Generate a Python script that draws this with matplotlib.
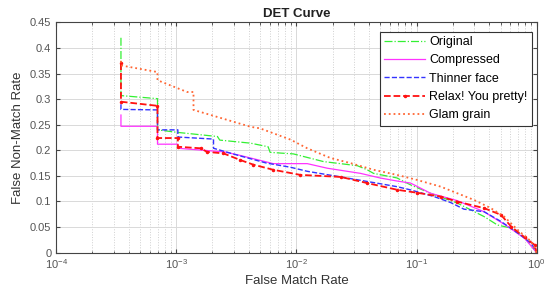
import numpy as np
import matplotlib.pyplot as plt

plt.rcParams['font.family'] = ['Liberation Sans', 'DejaVu Sans']

# DET curves: false match rate (x) vs false non-match rate (y)
orig_fmr = [3.46e-4, 3.46e-4, 6.97e-4, 6.97e-4, 1.03e-3, 2.2e-3, 2.3e-3, 4.15e-3, 5.81e-3, 6.04e-3,
            9.44e-3, 1.68e-2, 3.21e-2, 3.88e-2, 4.38e-2, 6.87e-2, 8.91e-2, 1.31e-1, 2.18e-1,
            3.65e-1, 4.72e-1, 6.13e-1, 7.94e-1, 1.0]
orig_fnmr = [0.42, 0.307, 0.301, 0.240, 0.235, 0.227, 0.220, 0.214, 0.207, 0.196,
             0.193, 0.178, 0.170, 0.162, 0.155, 0.146, 0.1325, 0.116, 0.097,
             0.0705, 0.054, 0.048, 0.030, 0.0]

comp_fmr = [3.46e-4, 3.46e-4, 6.97e-4, 6.97e-4, 1.03e-3, 1.03e-3, 2.5e-3, 3.41e-3, 6.41e-3,
            1.23e-2, 1.81e-2, 3.41e-2, 4.97e-2, 6.87e-2, 8.91e-2, 1.31e-1, 2.18e-1, 3.65e-1,
            5.75e-1, 7.94e-1, 1.0]
comp_fnmr = [0.269, 0.247, 0.247, 0.212, 0.212, 0.204, 0.197, 0.190, 0.174,
             0.174, 0.165, 0.155, 0.146, 0.140, 0.136, 0.116, 0.1017, 0.080,
             0.051, 0.028, 0.0]

thin_fmr = [3.46e-4, 3.46e-4, 6.97e-4, 6.97e-4, 1.03e-3, 1.03e-3, 2.04e-3, 2.04e-3, 3.41e-3,
            5.65e-3, 8.91e-3, 1.23e-2, 2.34e-2, 4.38e-2, 6.87e-2, 8.91e-2, 1.40e-1, 1.92e-1,
            2.48e-1, 3.65e-1, 5.04e-1, 6.98e-1, 9.04e-1, 1.0]
thin_fnmr = [0.29, 0.28, 0.279, 0.240, 0.240, 0.226, 0.222, 0.204, 0.189,
             0.175, 0.167, 0.159, 0.148, 0.137, 0.129, 0.1227, 0.1096, 0.098,
             0.085, 0.080, 0.061, 0.038, 0.018, 0.0]

relax_fmr = [3.46e-4, 3.46e-4, 6.97e-4, 6.97e-4, 1.03e-3, 1.03e-3, 1.59e-3, 1.8e-3, 2.47e-3,
             3.41e-3, 4.38e-3, 6.41e-3, 1.078e-2, 2.34e-2, 3.88e-2, 6.87e-2, 1.014e-1, 1.59e-1,
             2.18e-1, 3.65e-1, 5.04e-1, 6.13e-1, 7.94e-1, 9.64e-1, 1.0]
relax_fnmr = [0.37, 0.295, 0.287, 0.224, 0.224, 0.207, 0.204, 0.197, 0.194,
              0.181, 0.172, 0.162, 0.152, 0.148, 0.136, 0.123, 0.117, 0.1096,
              0.0998, 0.087, 0.074, 0.051, 0.030, 0.015, 0.0]

glam_fmr = [3.46e-4, 3.46e-4, 6.97e-4, 6.97e-4, 1.23e-3, 1.39e-3, 1.39e-3, 4.15e-3, 4.97e-3,
            8.91e-3, 1.23e-2, 1.92e-2, 2.82e-2, 4.38e-2, 6.87e-2, 1.014e-1, 1.59e-1, 3.01e-1,
            4.15e-1, 5.36e-1, 6.98e-1, 9.04e-1, 1.0]
glam_fnmr = [0.375, 0.366, 0.353, 0.337, 0.314, 0.314, 0.279, 0.246, 0.243,
             0.221, 0.204, 0.185, 0.175, 0.162, 0.152, 0.142, 0.129, 0.103,
             0.087, 0.0705, 0.044, 0.0215, 0.0]

fig = plt.figure(figsize=(5.51, 2.99), dpi=100)
ax = fig.add_axes([0.102, 0.155, 0.872, 0.77])

ax.plot(orig_fmr, orig_fnmr, '-.', color='#33f033', lw=0.9, label='Original')
ax.plot(comp_fmr, comp_fnmr, '-', color='#ff33ff', lw=0.9, label='Compressed')
ax.plot(thin_fmr, thin_fnmr, '--', color='#3333ff', lw=1.0, label='Thinner face')
ax.plot(relax_fmr, relax_fnmr, '--', color='#ff1111', lw=1.3, marker='.', ms=3,
        label='Relax! You pretty!')
ax.plot(glam_fmr, glam_fnmr, ':', color='#ff6633', lw=1.3, label='Glam grain')

ax.set_xscale('log')
ax.set_xlim(1e-4, 1)
ax.set_ylim(0, 0.45)
ax.set_yticks(np.arange(0, 0.451, 0.05))
ax.set_yticklabels(['0', '0.05', '0.1', '0.15', '0.2', '0.25', '0.3', '0.35', '0.4', '0.45'])

ax.grid(True, which='major', color='#d9d9d9', lw=0.7)
ax.grid(True, which='minor', axis='x', color='#d0d0d0', ls=':', lw=0.7)
ax.set_axisbelow(True)

ax.tick_params(which='both', direction='in', top=True, right=True, colors='#444444',
               labelsize=8, labelcolor='#555555')
ax.tick_params(which='major', length=3)
ax.tick_params(which='minor', length=1.8)
for s in ax.spines.values():
    s.set_color('#444444')
    s.set_linewidth(0.8)

ax.set_title('DET Curve', fontsize=9.5, fontweight='bold', color='#222222', pad=4)
ax.set_xlabel('False Match Rate', fontsize=9.5, color='#333333', labelpad=3)
ax.set_ylabel('False Non-Match Rate', fontsize=9.5, color='#333333', labelpad=4)

leg = ax.legend(loc='upper right', bbox_to_anchor=(0.995, 0.97), fontsize=9, fancybox=False,
                framealpha=1, edgecolor='#333333', handlelength=3.3, handletextpad=0.3,
                borderpad=0.35, labelspacing=0.5, borderaxespad=0.2)
leg.get_frame().set_linewidth(0.8)

fig.savefig('out.png', dpi=100)
